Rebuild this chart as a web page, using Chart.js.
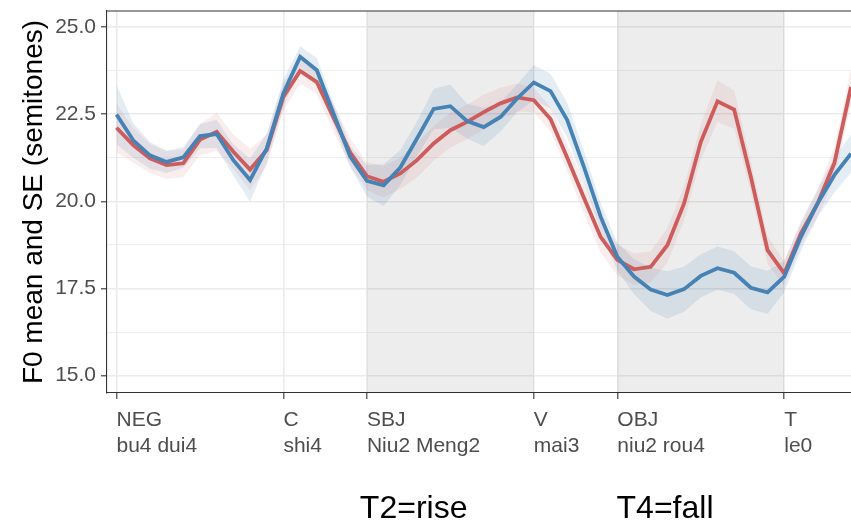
<!DOCTYPE html>
<html>
<head>
<meta charset="utf-8">
<script src="https://cdn.jsdelivr.net/npm/chart.js@4.4.1/dist/chart.umd.min.js"></script>
<style>
  html, body { margin: 0; padding: 0; background: #fff; }
</style>
</head>
<body>
<canvas id="myChart" width="851" height="521"></canvas>
<script>
// normalised time points (x), word boundaries and labels
const timePoints = [0,1,2,3,4,5,6,7,8,9,10,11,12,13,14,15,16,17,18,19,20,21,22,23,24,25,26,27,28,29,30,31,32,33,34,35,36,37,38,39,40,41,42,43,44];
const wordTicks = [0, 10, 15, 25, 30, 40];
const wordLabels = [["NEG", "bu4 dui4"], ["C", "shi4"], ["SBJ", "Niu2 Meng2"], ["V", "mai3"], ["OBJ", "niu2 rou4"], ["T", "le0"]];
const yTicks = [15, 16.25, 17.5, 18.75, 20, 21.25, 22.5, 23.75, 25];
const focusRegions = [[15, 25], [30, 40]];
const focusNames = ["T2=rise", "T4=fall"];

// F0 means (semitones) and standard errors
const blueMean = [22.49,21.75,21.32,21.13,21.26,21.87,21.93,21.18,20.61,21.52,23.1,24.15,23.76,22.52,21.28,20.59,20.46,20.97,21.8,22.65,22.73,22.3,22.13,22.42,22.95,23.41,23.16,22.33,20.99,19.56,18.41,17.84,17.47,17.31,17.48,17.86,18.08,17.95,17.52,17.39,17.84,18.98,19.94,20.75,21.37];
const blueSE = [0.85,0.5,0.38,0.32,0.3,0.35,0.4,0.45,0.62,0.42,0.4,0.3,0.35,0.3,0.3,0.45,0.6,0.5,0.5,0.58,0.62,0.5,0.55,0.42,0.4,0.5,0.5,0.5,0.45,0.4,0.4,0.5,0.62,0.68,0.65,0.62,0.62,0.62,0.62,0.62,0.45,0.4,0.4,0.5,0.55];
const redMean = [22.11,21.61,21.23,21.04,21.09,21.77,21.99,21.42,20.91,21.47,23.0,23.74,23.42,22.4,21.4,20.72,20.56,20.8,21.18,21.66,22.04,22.28,22.56,22.81,22.98,22.9,22.36,21.25,20.1,18.98,18.32,18.05,18.12,18.74,19.94,21.7,22.87,22.63,20.7,18.6,17.93,19.08,19.94,21.09,23.28];
const redSE = [0.7,0.5,0.42,0.4,0.4,0.45,0.55,0.5,0.6,0.45,0.4,0.35,0.35,0.4,0.4,0.4,0.45,0.45,0.5,0.5,0.5,0.5,0.5,0.45,0.4,0.35,0.35,0.4,0.45,0.45,0.45,0.45,0.45,0.5,0.5,0.5,0.6,0.55,0.45,0.4,0.35,0.35,0.4,0.45,0.5];

const BLUE = '#4682B4';
const RED = '#CD5C5C';

function pts(vals, se, sign) {
  return timePoints.map((t, i) => ({ x: t, y: vals[i] + sign * (se ? se[i] : 0) }));
}
function lineSet(vals, color) {
  return { data: pts(vals, null, 0), borderColor: color, borderWidth: 3.8, pointRadius: 0, tension: 0, fill: false };
}
function bandSet(vals, se, sign, color) {
  return { data: pts(vals, se, sign), borderWidth: 0, borderColor: 'rgba(0,0,0,0)', backgroundColor: color,
           pointRadius: 0, tension: 0, fill: sign > 0 ? '+1' : false };
}

Chart.defaults.font.family = '"Liberation Sans", Arial, sans-serif';

const isMajor = v => Math.abs(v / 2.5 - Math.round(v / 2.5)) < 1e-6;

const panelDecor = {
  id: 'panelDecor',
  beforeDatasetsDraw(chart) {
    const { ctx, chartArea: a, scales: { x } } = chart;
    ctx.save();
    ctx.fillStyle = 'rgba(0,0,0,0.07)';
    focusRegions.forEach(([s, e]) => {
      const x0 = x.getPixelForValue(s), x1 = x.getPixelForValue(e);
      ctx.fillRect(x0, a.top, x1 - x0, a.bottom - a.top);
    });
    ctx.restore();
  },
  afterDraw(chart) {
    const { ctx, chartArea: a, scales: { x } } = chart;
    ctx.save();
    // top panel border
    ctx.strokeStyle = '#333333';
    ctx.lineWidth = 1.1;
    ctx.beginPath();
    ctx.moveTo(a.left, a.top);
    ctx.lineTo(a.right, a.top);
    ctx.stroke();
    // y axis title
    ctx.fillStyle = '#000';
    ctx.font = '28px "Liberation Sans", Arial, sans-serif';
    ctx.textAlign = 'center';
    ctx.textBaseline = 'alphabetic';
    ctx.translate(42, (a.top + a.bottom) / 2);
    ctx.rotate(-Math.PI / 2);
    ctx.fillText('F0 mean and SE (semitones)', 0, 0);
    ctx.restore();
    // tone annotations under the axis
    ctx.save();
    ctx.fillStyle = '#000';
    ctx.font = '32px "Liberation Sans", Arial, sans-serif';
    ctx.textAlign = 'center';
    ctx.textBaseline = 'alphabetic';
    const centers = [17.8, 32.86];
    focusNames.forEach((n, k) => ctx.fillText(n, x.getPixelForValue(centers[k]), 518));
    ctx.restore();
  }
};

const ctx = document.getElementById('myChart');
new Chart(ctx, {
  type: 'line',
  data: {
    datasets: [
      lineSet(blueMean, BLUE),
      lineSet(redMean, RED),
      bandSet(blueMean, blueSE, 1, 'rgba(70,130,180,0.14)'),
      bandSet(blueMean, blueSE, -1, 'rgba(70,130,180,0.14)'),
      bandSet(redMean, redSE, 1, 'rgba(205,92,92,0.11)'),
      bandSet(redMean, redSE, -1, 'rgba(205,92,92,0.11)')
    ]
  },
  options: {
    responsive: false,
    animation: false,
    devicePixelRatio: 1,
    layout: { padding: { top: 11, left: 0, right: 0, bottom: 0 } },
    plugins: { legend: { display: false }, tooltip: { enabled: false } },
    scales: {
      x: {
        type: 'linear',
        min: -0.57,
        max: 44,
        afterBuildTicks: s => { s.ticks = wordTicks.map(v => ({ value: v })); },
        afterFit: s => { s.height = 128; s.paddingLeft = 0; s.paddingRight = 0; },
        grid: { color: '#ebebeb', lineWidth: 1.6, tickColor: '#333333', tickWidth: 1.1, tickLength: 6 },
        border: { display: true, color: '#333333', width: 1.1 },
        ticks: {
          autoSkip: false, maxRotation: 0, minRotation: 0, align: 'start', padding: 8,
          color: '#4d4d4d', font: { size: 21, lineHeight: 1.25 },
          callback: v => { const k = wordTicks.indexOf(v); return k >= 0 ? wordLabels[k] : ''; }
        }
      },
      y: {
        min: 14.5,
        max: 25.46,
        afterBuildTicks: s => { s.ticks = yTicks.map(v => ({ value: v })); },
        afterFit: s => { s.width = 107; s.paddingTop = 0; s.paddingBottom = 0; },
        grid: {
          color: '#ebebeb',
          lineWidth: c => (c.tick && isMajor(c.tick.value) ? 1.6 : 0.8),
          tickColor: c => (c.tick && isMajor(c.tick.value) ? '#333333' : 'rgba(0,0,0,0)'),
          tickWidth: 1.1, tickLength: 6
        },
        border: { display: true, color: '#333333', width: 1.1 },
        ticks: {
          autoSkip: false, padding: 5, color: '#4d4d4d', font: { size: 21 },
          callback: v => (isMajor(v) ? v.toFixed(1) : '')
        }
      }
    }
  },
  plugins: [panelDecor]
});
</script>
</body>
</html>
